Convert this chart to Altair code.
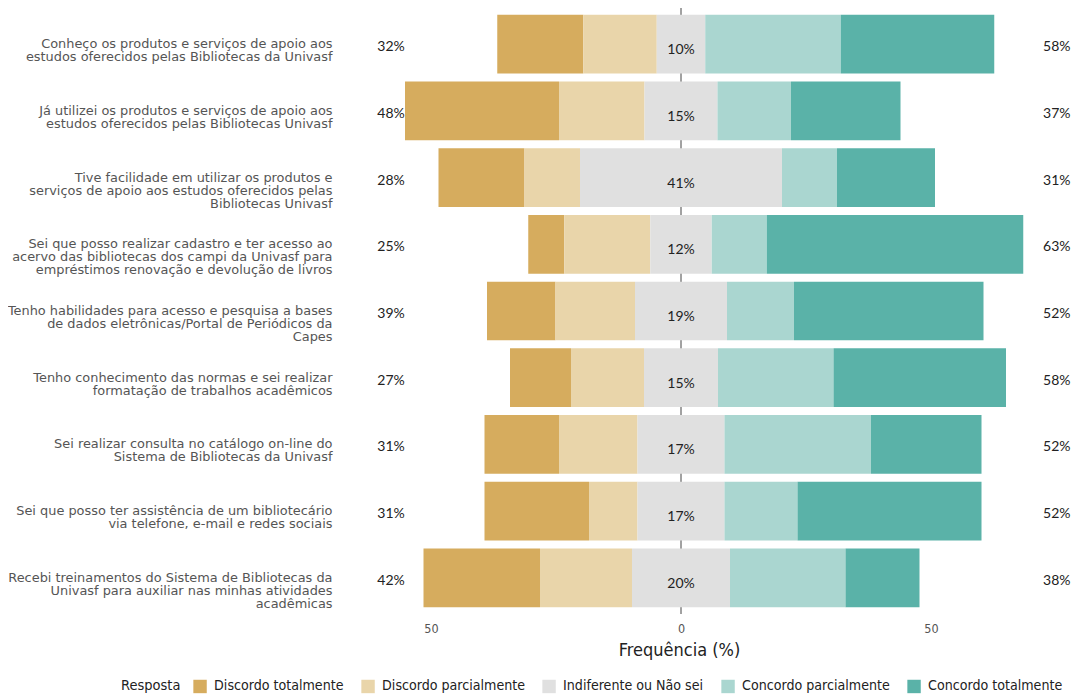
import altair as alt
import pandas as pd

items = [
    "Conheço os produtos e serviços de apoio aos|estudos oferecidos pelas Bibliotecas da Univasf",
    "Já utilizei os produtos e serviços de apoio aos|estudos oferecidos pelas Bibliotecas Univasf",
    "Tive facilidade em utilizar os produtos e|serviços de apoio aos estudos oferecidos pelas|Bibliotecas Univasf",
    "Sei que posso realizar cadastro e ter acesso ao|acervo das bibliotecas dos campi da Univasf para|empréstimos renovação e devolução de livros",
    "Tenho habilidades para acesso e pesquisa a bases|de dados eletrônicas/Portal de Periódicos da|Capes",
    "Tenho conhecimento das normas e sei realizar|formatação de trabalhos acadêmicos",
    "Sei realizar consulta no catálogo on-line do|Sistema de Bibliotecas da Univasf",
    "Sei que posso ter assistência de um bibliotecário|via telefone, e-mail e redes sociais",
    "Recebi treinamentos do Sistema de Bibliotecas da|Univasf para auxiliar nas minhas atividades|acadêmicas",
]
responses = ["Discordo totalmente", "Discordo parcialmente", "Indiferente ou Não sei",
             "Concordo parcialmente", "Concordo totalmente"]
colors = ["#D6AC5E", "#E9D5AA", "#E0E0E0", "#AAD6D0", "#5AB2A8"]

discordo_total = [17.2, 30.8, 17.2, 7.2, 13.7, 12.2, 14.9, 20.9, 23.3]
discordo_parcial = [14.7, 17.1, 11.1, 17.2, 15.9, 14.6, 15.7, 9.7, 18.4]
indiferente = [9.7, 14.6, 40.4, 12.3, 18.4, 14.8, 17.4, 17.4, 19.6]
concordo_parcial = [27.1, 14.7, 11.0, 11.0, 13.4, 23.1, 29.3, 14.6, 23.1]
concordo_total = [30.7, 21.9, 19.6, 51.3, 37.9, 34.5, 22.1, 36.8, 14.8]

left_labels = ["32%", "48%", "28%", "25%", "39%", "27%", "31%", "31%", "42%"]
center_labels = ["10%", "15%", "41%", "12%", "19%", "15%", "17%", "17%", "20%"]
right_labels = ["58%", "37%", "31%", "63%", "52%", "58%", "52%", "52%", "38%"]

# build diverging segments
rows = []
for i, it in enumerate(items):
    vals = [discordo_total[i], discordo_parcial[i], indiferente[i],
            concordo_parcial[i], concordo_total[i]]
    start = -(vals[0] + vals[1] + vals[2] / 2)
    for r, v in zip(responses, vals):
        rows.append({"item": it, "resp": r, "start": start, "end": start + v})
        start += v
bars_df = pd.DataFrame(rows)
lab_df = pd.DataFrame({"item": items, "left": left_labels,
                       "center": center_labels, "right": right_labels})

NARROW = "DejaVu Sans Condensed, Liberation Sans, sans-serif"
W, H = 730, 606
xscale = alt.Scale(domain=[-68, 78], nice=False, zero=False)
yscale = alt.Scale(paddingInner=0.12, paddingOuter=0.1)
ysort = items

rule = alt.Chart(pd.DataFrame({"x": [0]})).mark_rule(
    color="#444444", strokeWidth=1
).encode(x=alt.X("x:Q", scale=xscale))

bars = alt.Chart(bars_df).mark_bar().encode(
    y=alt.Y("item:N", sort=ysort, scale=yscale, title=None,
            axis=alt.Axis(labelExpr="split(datum.label, '|')", labelLimit=0,
                          labelFont="DejaVu Sans", labelFontSize=12.9,
                          labelLineHeight=13, labelColor="#555555",
                          labelAlign="right", labelBaseline="middle",
                          labelPadding=9, ticks=False, domain=False, grid=False)),
    x=alt.X("start:Q", scale=xscale, title="Frequência (%)",
            axis=alt.Axis(values=[-50, 0, 50], labelExpr="abs(datum.value)",
                          ticks=False, domain=False, grid=False,
                          labelFont=NARROW, labelFontSize=12.5,
                          labelColor="#555555", labelPadding=8,
                          titleFont=NARROW, titleFontSize=18,
                          titleFontWeight="normal", titleColor="#222222",
                          titleX=338, titleAlign="center", titlePadding=7)),
    x2="end:Q",
    color=alt.Color("resp:N", scale=alt.Scale(domain=responses, range=colors),
                    title="Resposta",
                    legend=alt.Legend(orient="none", legendX=-220, legendY=671,
                                      direction="horizontal", titleOrient="left",
                                      symbolType="square", symbolSize=180,
                                      symbolStrokeWidth=0, labelOffset=7,
                                      columnPadding=17, labelLimit=0,
                                      labelFont=NARROW,
                                      labelFontSize=14.1, labelColor="#222222",
                                      titleFont=NARROW,
                                      titleFontSize=14.5, titleFontWeight="normal",
                                      titleColor="#222222", titlePadding=12)),
)

txt_common = dict(font="Lato", fontSize=14, color="#222222")
left_t = alt.Chart(lab_df).mark_text(align="center", baseline="middle", dy=3,
                                     **txt_common).encode(
    y=alt.Y("item:N", sort=ysort, scale=yscale), x=alt.datum(-58), text="left:N")
center_t = alt.Chart(lab_df).mark_text(align="center", baseline="middle", dy=6,
                                       **txt_common).encode(
    y=alt.Y("item:N", sort=ysort, scale=yscale), x=alt.datum(0), text="center:N")
right_t = alt.Chart(lab_df).mark_text(align="right", baseline="middle", dy=3,
                                      **txt_common).encode(
    y=alt.Y("item:N", sort=ysort, scale=yscale), x=alt.datum(77.9), text="right:N")

chart = alt.layer(rule, bars, left_t, center_t, right_t).properties(
    width=W, height=H,
    autosize=alt.AutoSizeParams(type="none"),
    padding={"left": 333, "top": 0, "right": 0, "bottom": 90},
).configure_view(stroke=None)

chart.save("out.html", embed_options={"renderer": "svg", "actions": False})
